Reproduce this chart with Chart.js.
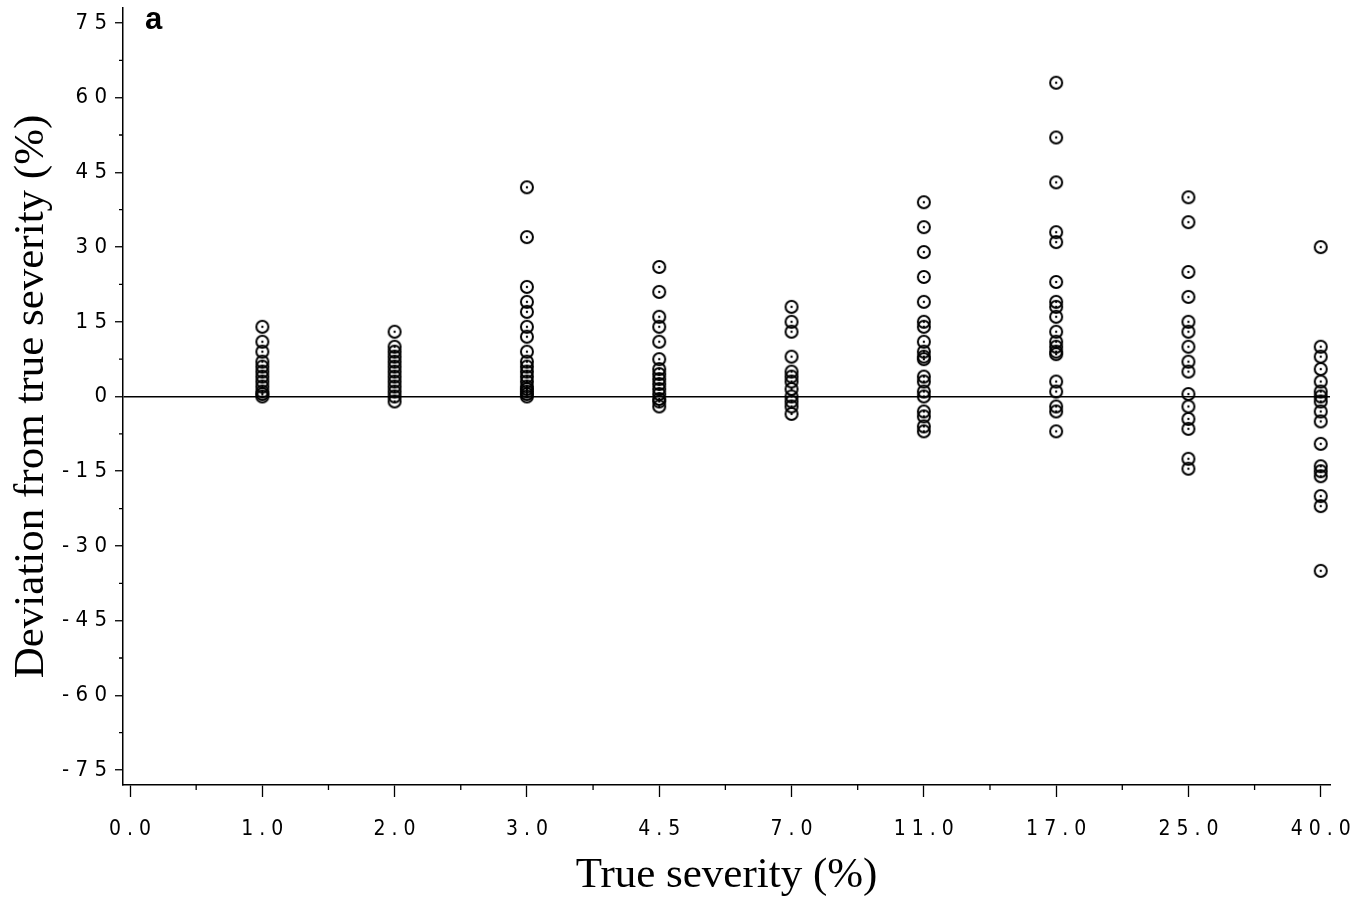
<!DOCTYPE html>
<html>
<head>
<meta charset="utf-8">
<script src="https://cdn.jsdelivr.net/npm/chart.js@4"></script>
<style>html,body{margin:0;background:#fff}</style>
</head>
<body>
<canvas id="grafico" width="1366" height="902"></canvas>
<script>
// Rótulos dos eixos
const rotulosX = ["0.0", "1.0", "2.0", "3.0", "4.5", "7.0", "11.0", "17.0", "25.0", "40.0"];
const rotulosY = [-75, -60, -45, -30, -15, 0, 15, 30, 45, 60, 75];

// Desvios (%) lidos por severidade real
const desvio1_0 = [14, 11, 9, 7, 6, 5, 4, 3, 2, 1, 0.5, 0];
const desvio2_0 = [13, 10, 9, 8, 7, 6, 5, 4, 3, 2, 1, 0, -1];
const desvio3_0 = [42, 32, 22, 19, 17, 14, 12, 9, 7, 6, 5, 4, 3, 2, 1.5, 1, 0.5, 0];
const desvio4_5 = [26, 21, 16, 14, 11, 7.5, 5.5, 4.5, 3.5, 2.5, 1.5, 0.5, -0.5, -1, -2];
const desvio7_0 = [18, 15, 13, 8, 5, 4, 3, 1.5, 0, -1, -2, -3.5];
const desvio11_0 = [39, 34, 29, 24, 19, 15, 14, 11, 9, 8, 7.5, 4, 3, 1, 0, -3, -4, -6, -7];
const desvio17_0 = [63, 52, 43, 33, 31, 23, 19, 18, 16, 13, 11, 10, 9, 8.5, 3, 1, -2, -3, -7];
const desvio25_0 = [40, 35, 25, 20, 15, 13, 10, 7, 5, 0.5, -2, -4.5, -6.5, -12.5, -14.5];
const desvio40_0 = [30, 10, 8, 5.5, 3, 1, 0, -1, -3, -5, -9.5, -14, -15, -16, -20, -22, -35];

const colunas = [desvio1_0, desvio2_0, desvio3_0, desvio4_5, desvio7_0, desvio11_0, desvio17_0, desvio25_0, desvio40_0];

function montarPontos() {
  const pontos = [];
  colunas.forEach((valores, i) => {
    valores.forEach(v => pontos.push({ x: i + 1, y: v }));
  });
  return pontos;
}

function criarMarcador() {
  const c = document.createElement("canvas");
  c.width = 18;
  c.height = 18;
  const g = c.getContext("2d");
  g.strokeStyle = "#000";
  g.lineWidth = 2;
  g.beginPath();
  g.arc(9, 9, 6, 0, Math.PI * 2);
  g.stroke();
  g.fillStyle = "#000";
  g.beginPath();
  g.arc(9, 9, 1.2, 0, Math.PI * 2);
  g.fill();
  return c;
}

const espacar = s => String(s).split("").join(" ");

const familiaNum = "'Liberation Sans Narrow', 'DejaVu Sans Condensed', sans-serif";
const fonteTitulo = { family: "'Liberation Serif', 'DejaVu Serif', serif", size: 43 };

// marcas menores e a letra do painel
const extras = {
  id: "extras",
  afterDraw(chart) {
    const { ctx, scales: { x, y } } = chart;
    ctx.save();
    ctx.strokeStyle = "#000";
    ctx.lineWidth = 1.3;
    ctx.beginPath();
    for (let v = 0.5; v < x.max; v += 1) {
      const px = x.getPixelForValue(v);
      ctx.moveTo(px, x.top);
      ctx.lineTo(px, x.top + 5);
    }
    for (let v = -67.5; v <= 67.5; v += 15) {
      const py = y.getPixelForValue(v);
      ctx.moveTo(y.right - 4, py);
      ctx.lineTo(y.right, py);
    }
    ctx.stroke();
    ctx.fillStyle = "#000";
    ctx.font = "bold 31px 'Liberation Sans', Arial, sans-serif";
    ctx.textBaseline = "alphabetic";
    ctx.fillText("a", chart.chartArea.left + 22, 29);
    ctx.restore();
  }
};

new Chart(document.getElementById("grafico"), {
  type: "scatter",
  data: {
    datasets: [{
      data: montarPontos(),
      pointStyle: criarMarcador(),
      pointRadius: 7,
      showLine: false
    }]
  },
  plugins: [extras],
  options: {
    responsive: false,
    animation: false,
    layout: { padding: { left: 0, top: 7, right: 36, bottom: 0 } },
    plugins: { legend: { display: false }, tooltip: { enabled: false } },
    scales: {
      x: {
        type: "linear",
        min: -0.053,
        max: 9.07,
        afterBuildTicks: s => { s.ticks = rotulosX.map((_, i) => ({ value: i })); },
        afterFit: s => { s.height = 117; s.paddingLeft = 0; s.paddingRight = 0; },
        ticks: {
          callback: v => espacar(rotulosX[v]),
          font: { family: familiaNum, size: 21 },
          color: "#000",
          padding: 20,
          maxRotation: 0,
          autoSkip: false
        },
        grid: { drawOnChartArea: false, tickLength: 12, tickColor: "#000", tickWidth: 1.3 },
        border: { color: "#000", width: 1.5 },
        title: { display: true, text: "True severity (%)", font: fonteTitulo, color: "#000", padding: { top: 0, bottom: 0 } }
      },
      y: {
        min: -78,
        max: 78,
        afterBuildTicks: s => { s.ticks = rotulosY.map(v => ({ value: v })); },
        afterFit: s => { s.width = 123; s.paddingTop = 0; s.paddingBottom = 0; },
        ticks: {
          callback: v => espacar(v),
          font: { family: familiaNum, size: 22 },
          color: "#000",
          padding: 8,
          autoSkip: false
        },
        grid: {
          color: c => (c.tick && c.tick.value === 0 ? "#000" : "rgba(0,0,0,0)"),
          lineWidth: 1.5,
          tickLength: 8,
          tickColor: "#000",
          tickWidth: 1.3
        },
        border: { color: "#000", width: 1.5 },
        title: { display: true, text: "Deviation from true severity (%)", font: fonteTitulo, color: "#000", padding: { top: 6, bottom: 0 } }
      }
    }
  }
});
</script>
</body>
</html>
